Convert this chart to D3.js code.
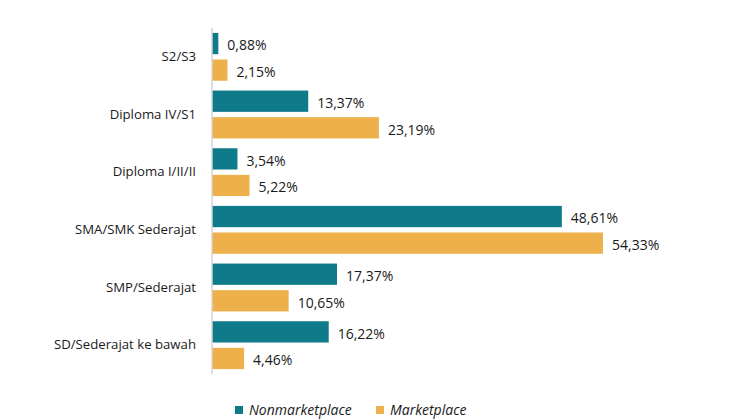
<!DOCTYPE html>
<html><head><meta charset="utf-8">
<script src="https://cdn.jsdelivr.net/npm/d3@7"></script>
<style>body{margin:0;background:#fff;} svg{display:block;font-family:"Open Sans","Noto Sans",sans-serif;}</style>
</head><body><svg id="c" width="750" height="420"></svg>
<script>
const categories = ["S2/S3","Diploma IV/S1","Diploma I/II/II","SMA/SMK Sederajat","SMP/Sederajat","SD/Sederajat ke bawah"];
const seriesNames = ["Nonmarketplace","Marketplace"];
const nonmarketplace = [0.88,13.37,3.54,48.61,17.37,16.22];
const marketplace = [2.15,23.19,5.22,54.33,10.65,4.46];
const colors = ["#0f7b8a","#edb04b"];

const svg = d3.select("#c");
const x0 = 212;
const x = d3.scaleLinear().domain([0,54.33]).range([x0,603]);
const y = d3.scaleBand().domain(categories).range([28,374]).paddingInner(0.17).paddingOuter(0.085);
const ys = d3.scaleBand().domain(seriesNames).range([0,y.bandwidth()]).paddingInner(0.2);
const fmt = v => d3.format(".2f")(v).replace(".",",") + "%";

const data = categories.map((c,i)=>({cat:c, vals:[nonmarketplace[i], marketplace[i]]}));

const g = svg.append("g");
data.forEach(d=>{
  d.vals.forEach((v,j)=>{
    const yy = y(d.cat)+ys(seriesNames[j]);
    g.append("rect").attr("x",x(0)).attr("y",yy).attr("width",x(v)-x(0)).attr("height",ys.bandwidth()).attr("fill",colors[j]);
    g.append("text").attr("x",x(v)+9).attr("y",yy+ys.bandwidth()/2+2).attr("dy","0.35em")
      .attr("font-size",14).attr("fill","#1a1a1a").text(fmt(v));
  });
});

// category axis
const yAxis = d3.axisLeft(y).tickSize(0).tickPadding(16);
const ag = svg.append("g").attr("transform",`translate(${x0},0)`).call(yAxis);
ag.select(".domain").attr("stroke","#d4d4d4").attr("stroke-width",1.5).attr("d","M0,28V374");
ag.selectAll("text").attr("font-size",13.2).attr("fill","#1a1a1a").attr("font-family","\"Open Sans\",\"Noto Sans\",sans-serif");

// legend
const leg = svg.append("g");
const legX = [235,376];
seriesNames.forEach((s,j)=>{
  leg.append("rect").attr("x",legX[j]).attr("y",406).attr("width",8).attr("height",8).attr("fill",colors[j]);
  leg.append("text").attr("x",legX[j]+14).attr("y",410.5).attr("dy","0.35em").attr("font-size",14)
    .attr("font-style","italic").attr("fill","#1a1a1a").text(s);
});
</script></body></html>
